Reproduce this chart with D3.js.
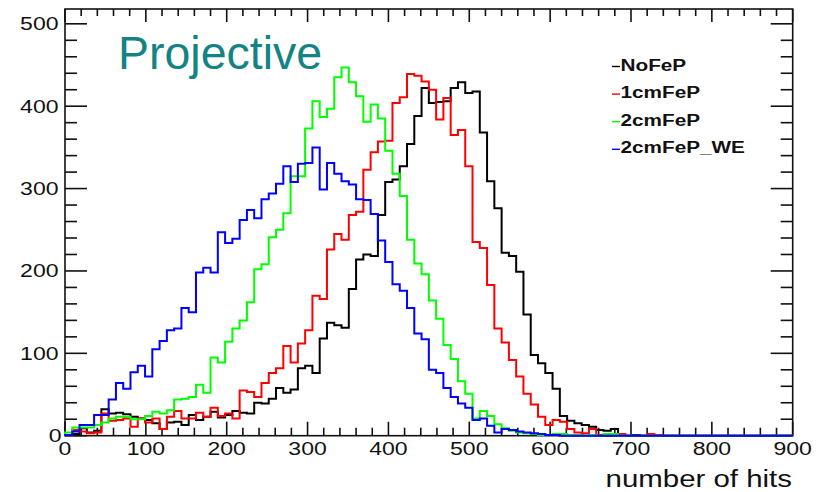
<!DOCTYPE html>
<html><head><meta charset="utf-8">
<script src="https://cdn.jsdelivr.net/npm/d3@7"></script>
<style>html,body{margin:0;padding:0;background:#fff;} svg{display:block;}</style>
</head><body>
<svg id="chart" width="827" height="492"></svg>
<script>
// ---- data ----
const seriesNames = ["NoFeP", "1cmFeP", "2cmFeP", "2cmFeP_WE"];
const seriesColors = ["#000000", "#ff0000", "#00ff00", "#0000ff"];
const binWidth = 9;   // 100 bins over 0..900
const noFeP = [1,2,9,4,6,32,27,28,26,23, 21,19,15,8,16,17,13,25,19,23,
  29,22,25,30,28,27,40,39,45,58, 52,56,82,85,76,118,137,134,131,178,
  214,220,218,268,308,311,327,354,388,422, 404,405,406,422,429,416,418,368,309,276,
  222,218,199,147,98,88,76,57,24,18, 15,13,11,7,6,8,1,0,1,0,
  0,1,0,0,0,0,0,0,0,0, 0,0,0,0,0,0,0,0,0,0];
const cm1FeP = [1,7,5,3,4,27,18,19,21,11, 21,16,21,8,23,30,21,21,28,23,
  34,24,27,21,55,53,47,64,76,82, 109,89,112,128,170,166,226,245,238,268,
  272,323,344,357,358,404,411,439,437,430, 420,384,410,365,371,327,235,228,183,130,
  113,92,72,51,38,23,13,19,17,8, 4,3,8,1,0,1,2,0,0,0,
  2,1,0,0,0,0,0,0,0,0, 0,0,0,0,0,0,0,0,0,0];
const cm2FeP = [4,10,10,10,13,16,21,23,23,20, 20,24,29,27,31,44,45,47,62,52,
  95,89,114,130,140,162,202,208,241,250, 270,315,315,373,406,387,397,435,447,429,
  412,381,402,385,346,318,291,238,209,196, 164,142,110,93,66,51,21,30,24,14,
  9,6,4,3,2,1,1,2,2,1, 1,0,1,0,2,2,0,0,0,0,
  0,0,0,0,0,0,0,0,0,0, 0,0,0,0,0,0,0,0,0,0];
const cm2FeP_WE = [1,5,13,13,25,25,44,64,57,77, 85,72,105,115,128,130,155,150,198,204,
  198,247,234,239,262,274,264,287,294,306, 327,308,330,331,350,299,331,318,309,305,
  287,286,269,237,211,184,176,155,124,117, 80,76,58,47,39,34,19,21,12,4,
  8,7,5,4,3,2,1,1,0,0, 0,0,0,0,0,0,0,0,0,0,
  0,0,0,0,0,0,0,0,0,0, 0,0,0,0,0,0,0,0,0,0];
const xTickLabels = [0,100,200,300,400,500,600,700,800,900];
const yTickLabels = [0,100,200,300,400,500];
const xLabel = "number of hits";
const titleText = "Projective";

// ---- layout ----
const xDomain = [0, 900], yDomain = [0, 518];
const pL = 65, pR = 792.7, pT = 9, pB = 435.7;
const SX = 1.28; // horizontal stretch of the original picture's text
const FONT = "'Liberation Sans', Arial, Helvetica, sans-serif";

const svg = d3.select("#chart");
const x = d3.scaleLinear().domain(xDomain).range([pL, pR]);
const y = d3.scaleLinear().domain(yDomain).range([pB, pT]);

function stext(g, str, px, py, opts) {
  return g.append("text")
    .attr("transform", `translate(${px},${py}) scale(${opts.sx || SX},1)`)
    .attr("text-anchor", opts.anchor || "start")
    .attr("font-family", FONT)
    .attr("font-size", opts.size)
    .attr("font-weight", opts.weight || "normal")
    .attr("fill", opts.fill || "#111")
    .text(str);
}

// frame
const axisG = svg.append("g").attr("stroke", "#111").attr("stroke-width", 1.6);
axisG.append("rect").attr("x", x(0)).attr("y", y(yDomain[1]))
  .attr("width", x(900) - x(0)).attr("height", y(0) - y(yDomain[1])).attr("fill", "none");

const xMinor = d3.range(0, 901, 20).filter(v => v % 100 !== 0);
const yMinor = d3.range(0, yDomain[1] + 1, 20).filter(v => v % 100 !== 0);

xTickLabels.forEach(v => {
  axisG.append("line").attr("x1", x(v)).attr("x2", x(v)).attr("y1", y(0)).attr("y2", y(0) - 14);
  axisG.append("line").attr("x1", x(v)).attr("x2", x(v)).attr("y1", y(yDomain[1])).attr("y2", y(yDomain[1]) + 13);
});
xMinor.forEach(v => {
  axisG.append("line").attr("x1", x(v)).attr("x2", x(v)).attr("y1", y(0)).attr("y2", y(0) - 8);
  axisG.append("line").attr("x1", x(v)).attr("x2", x(v)).attr("y1", y(yDomain[1])).attr("y2", y(yDomain[1]) + 7);
});
yTickLabels.forEach(v => {
  axisG.append("line").attr("x1", x(0)).attr("x2", x(0) + 22).attr("y1", y(v)).attr("y2", y(v));
  axisG.append("line").attr("x1", x(900)).attr("x2", x(900) - 22).attr("y1", y(v)).attr("y2", y(v));
});
yMinor.forEach(v => {
  axisG.append("line").attr("x1", x(0)).attr("x2", x(0) + 12).attr("y1", y(v)).attr("y2", y(v));
  axisG.append("line").attr("x1", x(900)).attr("x2", x(900) - 12).attr("y1", y(v)).attr("y2", y(v));
});

// tick labels
const labG = svg.append("g");
xTickLabels.forEach(v => stext(labG, String(v), x(v), 455, {size: 18, anchor: "middle"}));
yTickLabels.forEach(v => stext(labG, String(v), v === 0 ? 61.5 : 58.5, y(v) + 6.5, {size: 18, anchor: "end"}));
stext(labG, xLabel, 792, 487, {size: 23, anchor: "end"});

// histograms
const allSeries = [noFeP, cm1FeP, cm2FeP, cm2FeP_WE];
const line = d3.line().x(d => x(d[0])).y(d => y(d[1]));
allSeries.forEach((vals, si) => {
  const pts = [[0, 0]];
  vals.forEach((v, i) => { pts.push([i * binWidth, v]); pts.push([(i + 1) * binWidth, v]); });
  pts.push([vals.length * binWidth, 0]);
  svg.append("path").attr("d", line(pts)).attr("fill", "none")
    .attr("stroke", seriesColors[si]).attr("stroke-width", 2).attr("stroke-linejoin", "miter");
});

// legend
const legG = svg.append("g");
seriesNames.forEach((name, i) => {
  const base = 70.5 + 27.6 * i;
  legG.append("line").attr("x1", 612).attr("x2", 620).attr("y1", base - 4).attr("y2", base - 4)
    .attr("stroke", seriesColors[i]).attr("stroke-width", 1.4);
  stext(legG, name, 620.5, base, {size: 17, weight: "bold", fill: "#111", sx: 1.22});
});

// title
svg.append("text").attr("x", 118).attr("y", 68.5)
  .attr("font-family", FONT).attr("font-size", 46.5).attr("fill", "#138483")
  .text(titleText);
</script>
</body></html>
